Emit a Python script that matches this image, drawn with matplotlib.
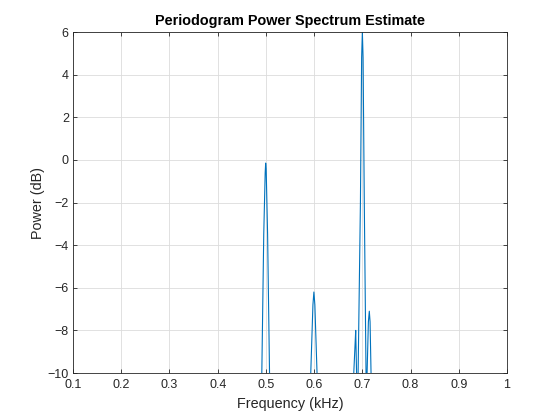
import numpy as np
import matplotlib.pyplot as plt

plt.rcParams['font.family'] = ['Liberation Sans', 'DejaVu Sans']

# spectrum samples (kHz, dB); values below -10 fall off the axes
freq_khz = [0.100, 0.4900, 0.4915, 0.4955, 0.4985, 0.4995, 0.5005, 0.5035, 0.5075, 0.5090,
            0.5920, 0.5930, 0.5975, 0.5995, 0.6015, 0.6060, 0.6070,
            0.6810, 0.6822, 0.6850, 0.6862, 0.6880, 0.6890,
            0.6900, 0.6912, 0.6960, 0.6985, 0.7000, 0.7015, 0.7040, 0.7076, 0.7085,
            0.7090, 0.7098, 0.7125, 0.7144, 0.7160, 0.7180, 0.7190, 1.000]
power_db = [-40, -12, -10.0, -3.5, -0.6, -0.15, -0.4, -3.5, -10.0, -12,
            -12, -10.0, -6.8, -6.2, -6.8, -10.0, -12,
            -12, -10.0, -8.6, -8.0, -10.0, -12,
            -12, -10.0, -2.0, 4.8, 6.0, 4.8, -2.0, -10.0, -12,
            -12, -10.0, -7.6, -7.1, -7.6, -10.0, -12, -40]

xticks = np.round(np.arange(0.1, 1.01, 0.1), 1)
xticklabels = ['0.1', '0.2', '0.3', '0.4', '0.5', '0.6', '0.7', '0.8', '0.9', '1']
yticks = list(range(-10, 7, 2))

fig = plt.figure(figsize=(5.6, 4.2), dpi=100)
ax = fig.add_axes([0.1304, 0.1119, 0.775, 0.8119])

ax.plot(freq_khz, power_db, color='#0072BD', linewidth=0.8)

ax.set_xlim(0.1, 1.0)
ax.set_ylim(-10, 6)
ax.set_xticks(xticks)
ax.set_xticklabels(xticklabels)
ax.set_yticks(yticks)

ax.grid(True, color='#dcdcdc', linewidth=0.6)
ax.set_axisbelow(True)
for s in ax.spines.values():
    s.set_color('#262626')
    s.set_linewidth(0.6)
ax.tick_params(direction='in', top=True, right=True, length=3.2, width=0.6,
               colors='#262626', labelsize=9)
ax.tick_params(axis='x', pad=4.5)
ax.tick_params(axis='y', pad=3)

ax.set_title('Periodogram Power Spectrum Estimate', fontsize=10.4, fontweight='bold', pad=5)
ax.set_xlabel('Frequency (kHz)', fontsize=10.4, color='#262626', labelpad=4)
ax.set_ylabel('Power (dB)', fontsize=10.4, color='#262626', labelpad=2)

fig.savefig('out.png', dpi=100, facecolor='white')
